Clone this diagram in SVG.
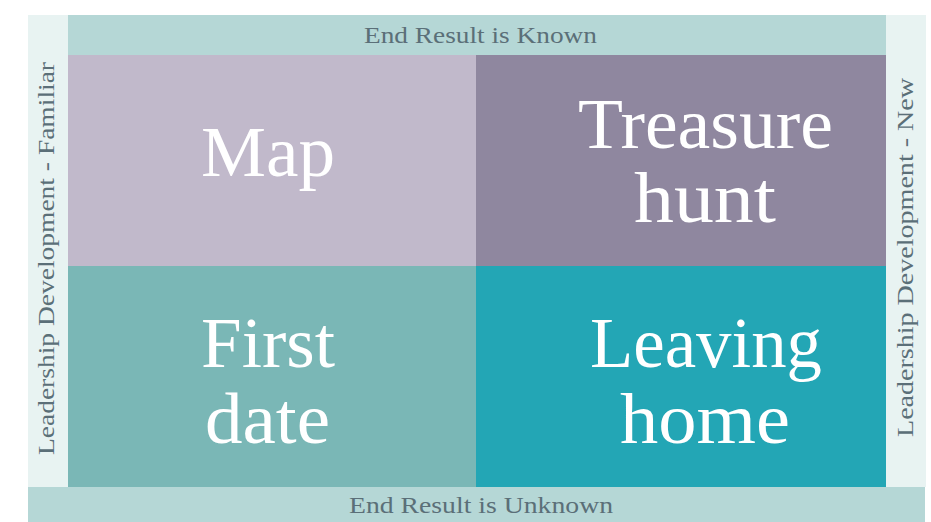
<svg xmlns="http://www.w3.org/2000/svg" width="931" height="522" viewBox="0 0 931 522">
<style>
.lbl{font-family:"Liberation Serif","DejaVu Serif",serif;font-size:23px;fill:#5b6f78;text-anchor:middle}
.big{font-family:"Liberation Serif","DejaVu Serif",serif;font-size:72px;fill:#ffffff;text-anchor:middle}
</style>
<rect width="931" height="522" fill="#ffffff"/>
<g id="left-band"><rect x="28" y="15" width="40" height="472" fill="#e8f3f2"/>
<text class="lbl" transform="translate(54,258.5) rotate(-90)" textLength="393" lengthAdjust="spacingAndGlyphs">Leadership Development - Familiar</text></g>
<g id="right-band"><rect x="886" y="15" width="40" height="472" fill="#e8f3f2"/>
<text class="lbl" transform="translate(913,257.5) rotate(-90)" textLength="359" lengthAdjust="spacingAndGlyphs">Leadership Development - New</text></g>
<g id="top-band"><rect x="68" y="15" width="818" height="40" fill="#b5d7d6"/>
<text class="lbl" x="480.5" y="43" textLength="233" lengthAdjust="spacingAndGlyphs">End Result is Known</text></g>
<g id="bottom-band"><rect x="28" y="487" width="897" height="35" fill="#b5d7d6"/>
<text class="lbl" x="481" y="513" textLength="264" lengthAdjust="spacingAndGlyphs">End Result is Unknown</text></g>
<g id="map"><rect x="68" y="55" width="408" height="211" fill="#c1b9cb"/>
<text class="big" x="268" y="176" textLength="134" lengthAdjust="spacingAndGlyphs">Map</text></g>
<g id="treasure-hunt"><rect x="476" y="55" width="410" height="211" fill="#8f879f"/>
<text class="big" x="705.5" y="148" textLength="255" lengthAdjust="spacingAndGlyphs">Treasure</text><text class="big" x="705" y="222" textLength="142" lengthAdjust="spacingAndGlyphs">hunt</text></g>
<g id="first-date"><rect x="68" y="266" width="408" height="221" fill="#7ab7b6"/>
<text class="big" x="268" y="367" textLength="134" lengthAdjust="spacingAndGlyphs">First</text><text class="big" x="267.5" y="443" textLength="125" lengthAdjust="spacingAndGlyphs">date</text></g>
<g id="leaving-home"><rect x="476" y="266" width="410" height="221" fill="#23a6b5"/>
<text class="big" x="706" y="367" textLength="232" lengthAdjust="spacingAndGlyphs">Leaving</text><text class="big" x="705" y="443" textLength="170" lengthAdjust="spacingAndGlyphs">home</text></g>
<g id="connectors"/>
</svg>
